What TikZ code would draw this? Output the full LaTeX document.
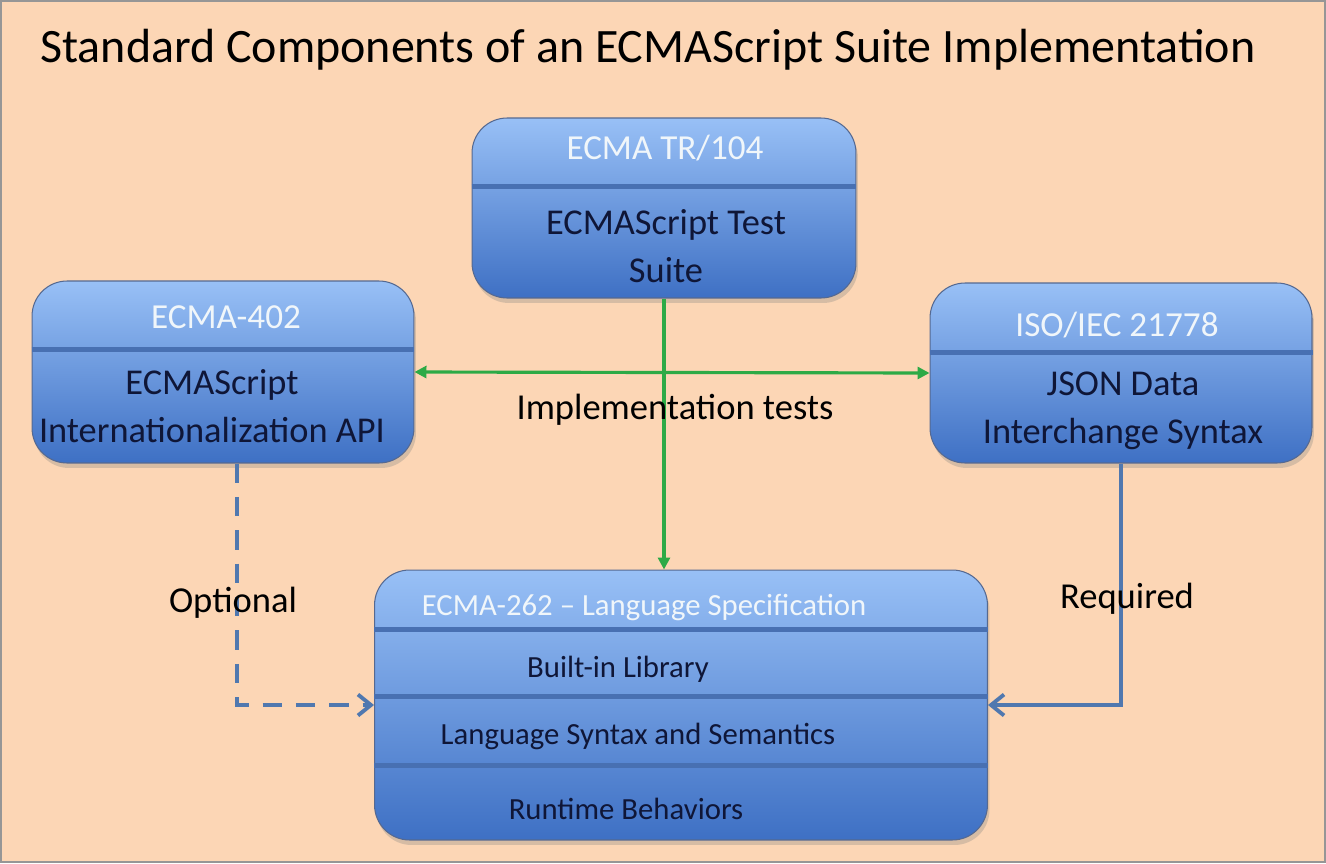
\documentclass[tikz,border=0pt]{standalone}
\usepackage{fontspec}
\setmainfont{Carlito}
\usetikzlibrary{arrows.meta, positioning, calc, shadows}

\definecolor{pagebg}{RGB}{252,214,181}
\definecolor{pagerule}{RGB}{150,150,150}
\definecolor{boxtop}{RGB}{152,192,246}
\definecolor{boxbot}{RGB}{62,112,196}
\definecolor{boxline}{RGB}{85,105,145}
\definecolor{sepcol}{RGB}{72,112,178}
\definecolor{headtext}{RGB}{240,246,250}
\definecolor{bodytext}{RGB}{15,22,55}
\definecolor{testgreen}{RGB}{45,170,70}
\definecolor{linkblue}{RGB}{80,120,175}

\begin{document}
\begin{tikzpicture}[x=0.02cm, y=-0.02cm, >=Stealth]

	% Define styles
	\tikzstyle{specbox} = [rectangle, rounded corners=0.7cm, draw=boxline, line width=0.6pt, top color=boxtop, bottom color=boxbot, drop shadow={shadow xshift=0.04cm, shadow yshift=-0.1cm, opacity=0.3}]
	\tikzstyle{headlabel} = [text=headtext, font=\fontsize{20}{24}\selectfont, anchor=base]
	\tikzstyle{bodylabel} = [text=bodytext, font=\fontsize{20.7}{27}\selectfont, align=center]
	\tikzstyle{rowlabel} = [text=bodytext, font=\fontsize{17.5}{21}\selectfont, anchor=base]
	\tikzstyle{linklabel} = [text=black, font=\fontsize{20.8}{24}\selectfont, anchor=base]
	\tikzstyle{sepline} = [draw=sepcol, line width=3pt]
	\tikzstyle{testlink} = [draw=testgreen, line width=1.8pt, arrows={-Triangle[length=0.24cm, width=0.24cm]}]
	\tikzstyle{needlink} = [draw=linkblue, line width=2.2pt, arrows={-Straight Barb[length=0.26cm, width=0.42cm]}]

	% Page
	\useasboundingbox (0,0) rectangle (1326,863);
	\draw[draw=pagerule, line width=1.2pt, fill=pagebg] (1,1) rectangle (1325,862);
	\node[anchor=base west, inner sep=0pt, font=\fontsize{27.3}{32}\selectfont] (title) at (40,62) {Standard Components of an ECMAScript Suite Implementation};

	% Boxes
	\node[specbox, minimum width=7.68cm, minimum height=3.6cm] (tr104) at (664,208) {};
	\node[specbox, minimum width=7.64cm, minimum height=3.64cm] (ecma402) at (223,372) {};
	\node[specbox, minimum width=7.64cm, minimum height=3.6cm] (iso21778) at (1121,373) {};
	\node[specbox, minimum width=12.26cm, minimum height=5.4cm] (ecma262) at (681,705) {};

	% Separators
	\draw[sepline] ([yshift=-1.38cm]tr104.north west) -- ([yshift=-1.38cm]tr104.north east);
	\draw[sepline] ([yshift=-1.38cm]ecma402.north west) -- ([yshift=-1.38cm]ecma402.north east);
	\draw[sepline] ([yshift=-1.4cm]iso21778.north west) -- ([yshift=-1.4cm]iso21778.north east);
	\draw[sepline] ([yshift=-1.2cm]ecma262.north west) -- ([yshift=-1.2cm]ecma262.north east);
	\draw[sepline] ([yshift=-2.54cm]ecma262.north west) -- ([yshift=-2.54cm]ecma262.north east);
	\draw[sepline] ([yshift=-3.92cm]ecma262.north west) -- ([yshift=-3.92cm]ecma262.north east);

	% Box texts
	\node[headlabel] (tr104head) at (665,159) {ECMA TR/104};
	\node[bodylabel] (tr104body) at (666,246) {ECMAScript Test\\Suite};
	\node[headlabel] (ecma402head) at (226,328) {ECMA-402};
	\node[bodylabel] (ecma402body) at (212,406) {ECMAScript\\Internationalization API};
	\node[headlabel] (isohead) at (1117,336) {ISO/IEC 21778};
	\node[bodylabel] (isobody) at (1123,411) {JSON Data\\Interchange Syntax};
	\node[rowlabel, text=headtext] (ecma262head) at (644,615) {ECMA-262 -- Language Specification};
	\node[rowlabel] (library) at (618,677) {Built-in Library};
	\node[rowlabel] (syntax) at (638,744) {Language Syntax and Semantics};
	\node[rowlabel] (runtime) at (626,819) {Runtime Behaviors};

	% Arrows
	\draw[testlink] (tr104.south) -- (tr104.south |- ecma262.north);
	\draw[testlink, arrows={Triangle[length=0.24cm, width=0.24cm]-Triangle[length=0.24cm, width=0.24cm]}] (ecma402.east) -- (iso21778.west);
	\draw[needlink, dash pattern=on 11pt off 8pt] ([xshift=0.28cm]ecma402.south) |- (ecma262.west);
	\draw[needlink] (iso21778.south) |- (ecma262.east);

	% Labels
	\node[linklabel] (impltests) at (675,419) {Implementation tests};
	\node[linklabel] (optional) at (233,612) {Optional};
	\node[linklabel] (required) at (1127,608) {Required};

\end{tikzpicture}
\end{document}
